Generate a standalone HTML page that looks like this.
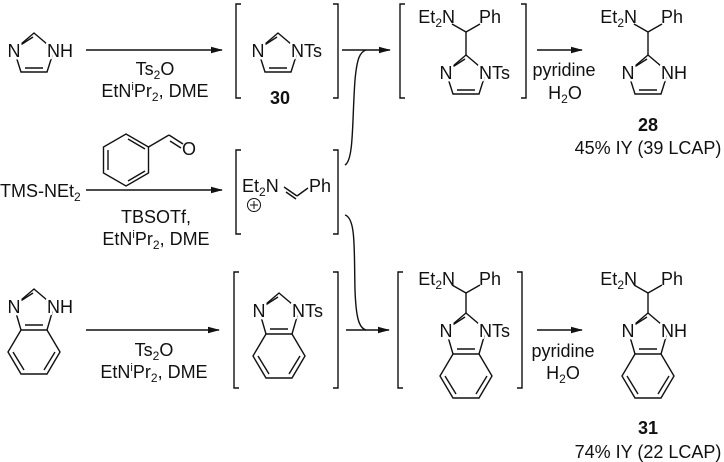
<!DOCTYPE html>
<html><head><meta charset="utf-8"><style>
html,body{margin:0;padding:0;background:#fff;}
svg{display:block;}
text{font-family:"Liberation Sans",Arial,sans-serif;font-size:18px;fill:#111;}
.w{paint-order:stroke;stroke:#fff;stroke-width:5px;stroke-linejoin:round;}
.b{font-weight:bold;}
line,path,polyline,polygon{stroke:#111;stroke-width:1.4;fill:none;}
</style></head><body>
<svg width="724" height="462" viewBox="0 0 724 462" xmlns="http://www.w3.org/2000/svg">
<defs>
<marker id="ah" markerWidth="12" markerHeight="8" refX="11" refY="4" orient="auto" markerUnits="userSpaceOnUse">
<path d="M0,0.8 L12,4 L0,7.2 Z" style="fill:#111;stroke:none"/>
</marker>
<g id="imi">
<polyline points="-20,17 0,0 20,17 13,39 -13,39 -20,17"/>
<line x1="-15" y1="13" x2="-1" y2="4"/>
<line x1="-9" y1="35" x2="9" y2="35"/>
</g>
<g id="bzi">
<polyline points="-20,17 0,0 20,17 13,41 -13,41 -20,17"/>
<line x1="-15" y1="13" x2="-1" y2="4"/>
<line x1="-9" y1="36" x2="9" y2="36"/>
<polyline points="13,41 26,63 13,85 -13,85 -26,63 -13,41"/>
<line x1="21" y1="63" x2="10" y2="81"/>
<line x1="-10" y1="81" x2="-21" y2="63"/>
</g>
</defs>

<!-- Row 1 -->
<use href="#imi" x="34" y="33"/>
<text class="w" x="14" y="57" text-anchor="middle">N</text>
<text class="w" x="47" y="57">NH</text>
<line x1="86" y1="50" x2="222" y2="50" marker-end="url(#ah)"/>
<text x="155" y="75" text-anchor="middle">Ts<tspan font-size="12" dy="4">2</tspan><tspan dy="-4">O</tspan></text>
<text x="155" y="97" text-anchor="middle">EtN<tspan font-size="11" dy="-7">i</tspan><tspan dy="7">Pr</tspan><tspan font-size="12" dy="4">2</tspan><tspan dy="-4">, DME</tspan></text>

<polyline points="241,4 236,4 236,98 241,98"/>
<polyline points="333,4 338,4 338,98 333,98"/>
<use href="#imi" x="278" y="33"/>
<text class="w" x="258" y="57" text-anchor="middle">N</text>
<text class="w" x="291" y="57">NTs</text>
<text class="b" x="280" y="104" text-anchor="middle">30</text>

<line x1="342" y1="50" x2="390" y2="50" marker-end="url(#ah)"/>
<path d="M345,165 C354,160 352,120 355,80 C357,58 360,52 366,50"/>

<polyline points="405,4 400,4 400,98 405,98"/>
<polyline points="521,4 526,4 526,98 521,98"/>
<line x1="452" y1="24" x2="466" y2="32"/>
<line x1="466" y1="32" x2="480" y2="24"/>
<line x1="466" y1="32" x2="466" y2="55"/>
<use href="#imi" x="466" y="55"/>
<text x="455" y="23" text-anchor="end">Et<tspan font-size="12" dy="4">2</tspan><tspan dy="-4">N</tspan></text>
<text x="479" y="23">Ph</text>
<text class="w" x="446" y="79" text-anchor="middle">N</text>
<text class="w" x="479" y="79">NTs</text>

<line x1="537" y1="50" x2="582" y2="50" marker-end="url(#ah)"/>
<text x="564" y="76" text-anchor="middle" font-size="17">pyridine</text>
<text x="565" y="99" text-anchor="middle">H<tspan font-size="12" dy="4">2</tspan><tspan dy="-4">O</tspan></text>

<line x1="634" y1="24" x2="648" y2="32"/>
<line x1="648" y1="32" x2="662" y2="24"/>
<line x1="648" y1="32" x2="648" y2="55"/>
<use href="#imi" x="648" y="55"/>
<text x="637" y="23" text-anchor="end">Et<tspan font-size="12" dy="4">2</tspan><tspan dy="-4">N</tspan></text>
<text x="661" y="23">Ph</text>
<text class="w" x="628" y="79" text-anchor="middle">N</text>
<text class="w" x="661" y="79">NH</text>
<text class="b" x="648" y="131" text-anchor="middle">28</text>
<text x="648" y="154" text-anchor="middle">45% IY (39 LCAP)</text>

<!-- Row 2 -->
<polygon points="126,134 148.5,147 148.5,173 126,186 103.5,173 103.5,147"/>
<line x1="108" y1="150" x2="108" y2="170"/>
<line x1="128" y1="181" x2="145" y2="171"/>
<line x1="128" y1="139" x2="145" y2="149"/>
<line x1="148.5" y1="147" x2="169" y2="135"/>
<line x1="169" y1="135" x2="183" y2="144"/>
<line x1="170" y1="141" x2="181" y2="148"/>
<text x="189" y="155" text-anchor="middle">O</text>

<text x="0" y="197">TMS-NEt<tspan font-size="12" dy="4">2</tspan></text>
<line x1="86" y1="190" x2="222" y2="190" marker-end="url(#ah)"/>
<text x="156" y="223" text-anchor="middle">TBSOTf,</text>
<text x="156" y="245" text-anchor="middle">EtN<tspan font-size="11" dy="-7">i</tspan><tspan dy="7">Pr</tspan><tspan font-size="12" dy="4">2</tspan><tspan dy="-4">, DME</tspan></text>

<polyline points="241,150 236,150 236,234 241,234"/>
<polyline points="333,150 338,150 338,234 333,234"/>
<text x="242" y="192">Et<tspan font-size="12" dy="4">2</tspan><tspan dy="-4">N</tspan></text>
<line x1="284" y1="187" x2="297" y2="196"/>
<line x1="286" y1="192" x2="296" y2="199"/>
<line x1="297" y1="196" x2="308" y2="188"/>
<text x="309" y="192">Ph</text>
<circle cx="254" cy="205" r="6.5" style="fill:none;stroke:#111;stroke-width:1"/>
<line x1="250" y1="205" x2="258" y2="205" style="stroke-width:1"/>
<line x1="254" y1="201" x2="254" y2="209" style="stroke-width:1"/>

<path d="M345,215 C356,218 354,250 355,290 C356,318 359,328 366,330"/>

<!-- Row 3 -->
<use href="#bzi" x="34" y="289"/>
<text class="w" x="14" y="313" text-anchor="middle">N</text>
<text class="w" x="47" y="313">NH</text>
<line x1="86" y1="330" x2="219" y2="330" marker-end="url(#ah)"/>
<text x="154" y="356" text-anchor="middle">Ts<tspan font-size="12" dy="4">2</tspan><tspan dy="-4">O</tspan></text>
<text x="154" y="378" text-anchor="middle">EtN<tspan font-size="11" dy="-7">i</tspan><tspan dy="7">Pr</tspan><tspan font-size="12" dy="4">2</tspan><tspan dy="-4">, DME</tspan></text>

<polyline points="239,272 234,272 234,388 239,388"/>
<polyline points="333,272 338,272 338,388 333,388"/>
<use href="#bzi" x="279" y="293"/>
<text class="w" x="259" y="317" text-anchor="middle">N</text>
<text class="w" x="292" y="317">NTs</text>

<line x1="346" y1="330" x2="389" y2="330" marker-end="url(#ah)"/>

<polyline points="403,272 398,272 398,388 403,388"/>
<polyline points="517,272 522,272 522,388 517,388"/>
<line x1="452" y1="285" x2="466" y2="293"/>
<line x1="466" y1="293" x2="480" y2="285"/>
<line x1="466" y1="293" x2="466" y2="313"/>
<use href="#bzi" x="466" y="313"/>
<text x="455" y="285" text-anchor="end">Et<tspan font-size="12" dy="4">2</tspan><tspan dy="-4">N</tspan></text>
<text x="479" y="285">Ph</text>
<text class="w" x="446" y="337" text-anchor="middle">N</text>
<text class="w" x="479" y="337">NTs</text>

<line x1="537" y1="330" x2="582" y2="330" marker-end="url(#ah)"/>
<text x="563" y="357" text-anchor="middle" font-size="17">pyridine</text>
<text x="563" y="379" text-anchor="middle">H<tspan font-size="12" dy="4">2</tspan><tspan dy="-4">O</tspan></text>

<line x1="634" y1="285" x2="648" y2="293"/>
<line x1="648" y1="293" x2="662" y2="285"/>
<line x1="648" y1="293" x2="648" y2="313"/>
<use href="#bzi" x="648" y="313"/>
<text x="637" y="285" text-anchor="end">Et<tspan font-size="12" dy="4">2</tspan><tspan dy="-4">N</tspan></text>
<text x="661" y="285">Ph</text>
<text class="w" x="628" y="337" text-anchor="middle">N</text>
<text class="w" x="661" y="337">NH</text>
<text class="b" x="648" y="434" text-anchor="middle">31</text>
<text x="648" y="458" text-anchor="middle">74% IY (22 LCAP)</text>
</svg>
</body></html>
